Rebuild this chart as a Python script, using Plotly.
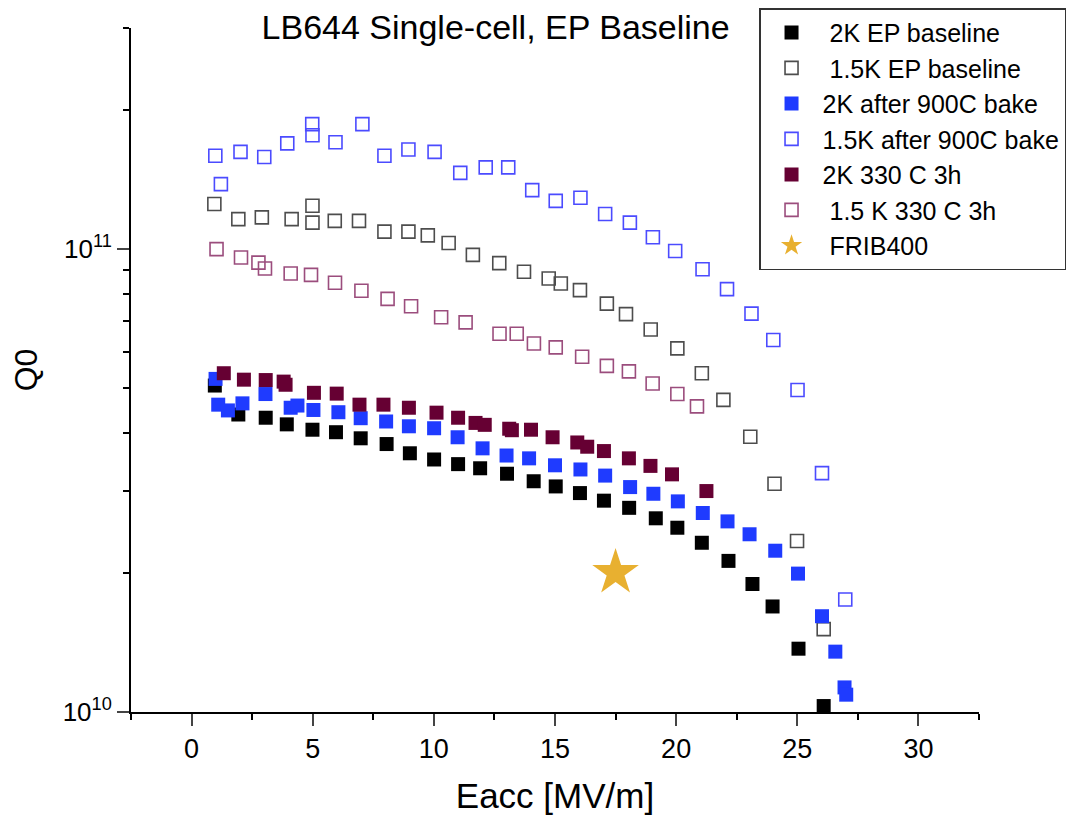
import plotly.graph_objects as go
import numpy as np

# ---- data (Eacc in MV/m, Q0 in units of 1e10) ----
ep2k_E = [0.96, 1.93, 3.06, 3.93, 4.99, 5.96, 6.98, 8.05, 9.01, 10.01, 11.0, 11.91, 13.02, 14.12,
          15.03, 16.03, 17.02, 18.06, 19.16, 20.05, 21.06, 22.16, 23.15, 23.98, 25.05, 26.09]
ep2k_Q = [5.07, 4.39, 4.32, 4.18, 4.07, 4.02, 3.90, 3.79, 3.62, 3.51, 3.43, 3.36, 3.27, 3.15,
          3.07, 2.97, 2.86, 2.76, 2.62, 2.50, 2.32, 2.12, 1.89, 1.69, 1.37, 1.03]

ep15k_E = [0.94, 1.93, 2.90, 4.13, 4.99, 4.99, 5.91, 6.91, 7.96, 8.95, 9.75, 10.61, 11.61, 12.70,
           13.72, 14.74, 15.24, 16.03, 17.14, 17.93, 18.95, 20.05, 21.06, 21.95, 23.06, 24.06, 24.99, 26.09]
ep15k_Q = [12.5, 11.6, 11.7, 11.6, 12.4, 11.4, 11.5, 11.5, 10.9, 10.9, 10.7, 10.3, 9.71, 9.32,
           8.93, 8.63, 8.42, 8.15, 7.62, 7.23, 6.70, 6.10, 5.39, 4.72, 3.93, 3.11, 2.34, 1.51]

bake2k_E = [0.99, 1.10, 1.50, 2.10, 3.05, 4.09, 4.37, 5.03, 6.06, 6.98, 8.03, 8.97, 10.01, 10.98,
            12.01, 13.00, 13.93, 15.00, 16.05, 17.07, 18.10, 19.06, 20.07, 21.10, 22.12, 23.03,
            24.09, 25.03, 26.02, 26.57, 26.95, 27.02]
bake2k_Q = [5.24, 4.61, 4.48, 4.64, 4.86, 4.54, 4.59, 4.49, 4.44, 4.31, 4.24, 4.14, 4.10, 3.92,
            3.71, 3.58, 3.53, 3.41, 3.34, 3.24, 3.06, 2.96, 2.85, 2.69, 2.58, 2.42,
            2.23, 1.99, 1.61, 1.35, 1.13, 1.09]

bake15k_E = [0.98, 1.21, 2.02, 3.0, 3.95, 4.98, 4.99, 5.94, 7.05, 7.96, 8.95, 10.03, 11.09, 12.14,
             13.07, 14.06, 15.03, 16.05, 17.07, 18.09, 19.04, 19.96, 21.09, 22.10, 23.11, 24.01,
             25.01, 26.02, 26.98]
bake15k_Q = [15.9, 13.8, 16.2, 15.8, 16.9, 18.6, 17.6, 17.0, 18.6, 15.9, 16.4, 16.2, 14.6, 15.0,
             15.0, 13.4, 12.7, 12.9, 11.9, 11.4, 10.6, 9.9, 9.04, 8.19, 7.25, 6.36,
             4.96, 3.28, 1.75]

lt2k_E = [1.33, 2.16, 3.06, 3.80, 3.88, 5.05, 5.99, 6.93, 7.92, 8.97, 10.11, 11.00, 11.72, 12.10,
          13.11, 13.22, 14.01, 14.90, 15.92, 16.33, 17.02, 18.05, 18.94, 19.83, 21.25]
lt2k_Q = [5.39, 5.22, 5.21, 5.17, 5.09, 4.89, 4.87, 4.61, 4.61, 4.54, 4.43, 4.32, 4.21, 4.17,
          4.09, 4.06, 4.07, 3.92, 3.82, 3.74, 3.66, 3.53, 3.40, 3.26, 3.00]

lt15k_E = [1.03, 2.04, 2.76, 3.03, 4.09, 4.93, 5.92, 7.01, 8.09, 9.06, 10.30, 11.31, 12.71, 13.42,
           14.13, 15.03, 16.12, 17.14, 18.05, 19.03, 20.05, 20.86]
lt15k_Q = [9.99, 9.58, 9.34, 9.07, 8.85, 8.79, 8.45, 8.12, 7.80, 7.52, 7.12, 6.94, 6.56, 6.56,
           6.25, 6.13, 5.85, 5.59, 5.44, 5.12, 4.86, 4.57]

frib_E = [17.5]
frib_Q = [2.0]

x_ticks = [0, 5, 10, 15, 20, 25, 30]
y_ticks = [1e10, 1e11]
y_ticktext = ["10<sup>10</sup>", "10<sup>11</sup>"]
y_minor = [k * 1e10 for k in range(2, 10)] + [2e11, 3e11]

SCALE = 1e10
NB = "\u00a0"

series = [
    (NB + "2K EP baseline", ep2k_E, ep2k_Q, "square", dict(color="#000000", line=dict(width=0))),
    (NB + "1.5K EP baseline", ep15k_E, ep15k_Q, "square-open", dict(color="#4d4d4d", line=dict(width=1.6))),
    ("2K after 900C bake", bake2k_E, bake2k_Q, "square", dict(color="#1f3bff", line=dict(width=0))),
    ("1.5K after 900C bake", bake15k_E, bake15k_Q, "square-open", dict(color="#4b4bff", line=dict(width=1.6))),
    ("2K 330 C 3h", lt2k_E, lt2k_Q, "square", dict(color="#660033", line=dict(width=0))),
    (NB + "1.5 K 330 C 3h", lt15k_E, lt15k_Q, "square-open", dict(color="#9b4d7d", line=dict(width=1.6))),
]

fig = go.Figure()
for name, xs, qs, sym, mk in series:
    size = 14 if sym == "square" else 13
    fig.add_trace(go.Scatter(
        x=xs, y=[q * SCALE for q in qs], mode="markers", name=name,
        marker=dict(symbol=sym, size=size, **mk),
    ))
fig.add_trace(go.Scatter(
    x=frib_E, y=[q * SCALE for q in frib_Q], mode="markers", name=NB + "FRIB400",
    marker=dict(symbol="star", size=35, color="#e8b030", line=dict(width=0)),
))

FONT = "Liberation Sans, Arial, sans-serif"

# page body has an 8px default margin; the figure is sized to fit the window
fig.update_layout(
    width=1081, height=815,
    paper_bgcolor="white", plot_bgcolor="white",
    margin=dict(l=123, r=110, t=20, b=111, autoexpand=False),
    font=dict(family=FONT, color="black", size=24),
    title=dict(text="LB644 Single-cell, EP Baseline", x=0.43, xref="paper", xanchor="center",
               y=0.976, yref="container", yanchor="middle",
               font=dict(size=34, family=FONT, color="black")),
    legend=dict(x=0.7406, y=1.029, xanchor="left", yanchor="top",
                bordercolor="#333333", borderwidth=1.5, bgcolor="white",
                font=dict(size=25, family=FONT, color="black"),
                itemwidth=52, tracegroupgap=0),
    showlegend=True,
)

fig.update_xaxes(
    range=[-2.5, 32.5], tickvals=x_ticks, ticks="outside", ticklen=12, tickwidth=2,
    showline=True, linewidth=2, linecolor="black", mirror=False, showgrid=False, zeroline=False,
    automargin=False,
    tickfont=dict(size=27, family=FONT),
    minor=dict(dtick=2.5, tick0=0, ticks="outside", ticklen=6, tickwidth=2, tickcolor="black", showgrid=False),
    title=dict(text="Eacc [MV/m]", font=dict(size=35, family=FONT), standoff=20),
)
fig.update_yaxes(
    type="log", range=[10, np.log10(3e11)], tickvals=y_ticks, ticktext=y_ticktext,
    ticks="outside", ticklen=12, tickwidth=2,
    showline=True, linewidth=2, linecolor="black", mirror=False, showgrid=False, zeroline=False,
    automargin=False,
    tickfont=dict(size=26, family=FONT), ticklabelstandoff=0,
    minor=dict(tickvals=y_minor, ticks="outside", ticklen=6, tickwidth=2, tickcolor="black", showgrid=False),
    title=dict(text="Q0", font=dict(size=32, family=FONT), standoff=19),
)

fig.write_html("out.html")
